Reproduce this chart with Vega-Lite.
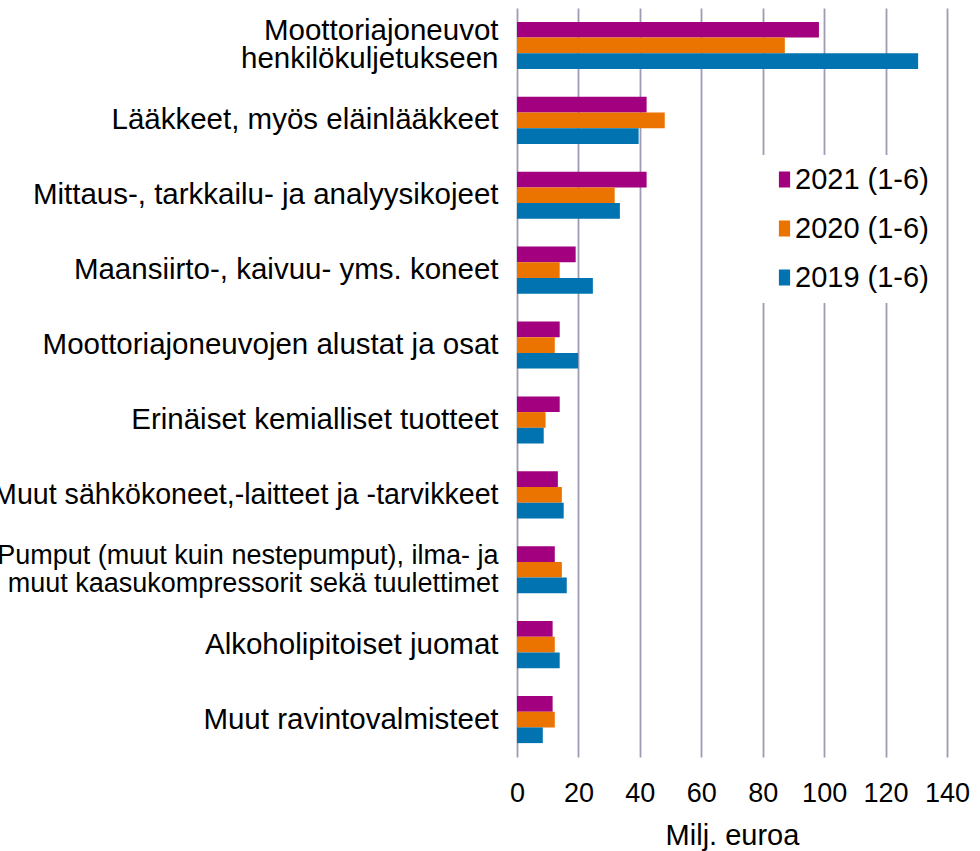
{
  "$schema": "https://vega.github.io/schema/vega-lite/v6.json",
  "autosize": {"type": "none"},
  "padding": {"left": 517, "top": 8, "right": 33, "bottom": 94},
  "width": 430,
  "height": 749,
  "background": "white",
  "config": {
    "font": "Liberation Sans",
    "view": {"stroke": null}
  },
  "data": {
    "values": [
      {"category": "Moottoriajoneuvot henkilökuljetukseen", "year": "2021 (1-6)", "value": 98.3},
      {"category": "Moottoriajoneuvot henkilökuljetukseen", "year": "2020 (1-6)", "value": 87.2},
      {"category": "Moottoriajoneuvot henkilökuljetukseen", "year": "2019 (1-6)", "value": 130.6},
      {"category": "Lääkkeet, myös eläinlääkkeet", "year": "2021 (1-6)", "value": 42.2},
      {"category": "Lääkkeet, myös eläinlääkkeet", "year": "2020 (1-6)", "value": 48.1},
      {"category": "Lääkkeet, myös eläinlääkkeet", "year": "2019 (1-6)", "value": 39.6},
      {"category": "Mittaus-, tarkkailu- ja analyysikojeet", "year": "2021 (1-6)", "value": 42.2},
      {"category": "Mittaus-, tarkkailu- ja analyysikojeet", "year": "2020 (1-6)", "value": 31.8},
      {"category": "Mittaus-, tarkkailu- ja analyysikojeet", "year": "2019 (1-6)", "value": 33.5},
      {"category": "Maansiirto-, kaivuu- yms. koneet", "year": "2021 (1-6)", "value": 19.1},
      {"category": "Maansiirto-, kaivuu- yms. koneet", "year": "2020 (1-6)", "value": 13.9},
      {"category": "Maansiirto-, kaivuu- yms. koneet", "year": "2019 (1-6)", "value": 24.7},
      {"category": "Moottoriajoneuvojen alustat ja osat", "year": "2021 (1-6)", "value": 13.9},
      {"category": "Moottoriajoneuvojen alustat ja osat", "year": "2020 (1-6)", "value": 12.3},
      {"category": "Moottoriajoneuvojen alustat ja osat", "year": "2019 (1-6)", "value": 19.9},
      {"category": "Erinäiset kemialliset tuotteet", "year": "2021 (1-6)", "value": 13.9},
      {"category": "Erinäiset kemialliset tuotteet", "year": "2020 (1-6)", "value": 9.3},
      {"category": "Erinäiset kemialliset tuotteet", "year": "2019 (1-6)", "value": 8.7},
      {"category": "Muut sähkökoneet,-laitteet ja -tarvikkeet", "year": "2021 (1-6)", "value": 13.3},
      {"category": "Muut sähkökoneet,-laitteet ja -tarvikkeet", "year": "2020 (1-6)", "value": 14.6},
      {"category": "Muut sähkökoneet,-laitteet ja -tarvikkeet", "year": "2019 (1-6)", "value": 15.2},
      {"category": "Pumput (muut kuin nestepumput), ilma- ja muut kaasukompressorit sekä tuulettimet", "year": "2021 (1-6)", "value": 12.3},
      {"category": "Pumput (muut kuin nestepumput), ilma- ja muut kaasukompressorit sekä tuulettimet", "year": "2020 (1-6)", "value": 14.6},
      {"category": "Pumput (muut kuin nestepumput), ilma- ja muut kaasukompressorit sekä tuulettimet", "year": "2019 (1-6)", "value": 16.2},
      {"category": "Alkoholipitoiset juomat", "year": "2021 (1-6)", "value": 11.6},
      {"category": "Alkoholipitoiset juomat", "year": "2020 (1-6)", "value": 12.3},
      {"category": "Alkoholipitoiset juomat", "year": "2019 (1-6)", "value": 13.9},
      {"category": "Muut ravintovalmisteet", "year": "2021 (1-6)", "value": 11.6},
      {"category": "Muut ravintovalmisteet", "year": "2020 (1-6)", "value": 12.3},
      {"category": "Muut ravintovalmisteet", "year": "2019 (1-6)", "value": 8.4}
    ]
  },
  "mark": {"type": "bar"},
  "encoding": {
    "y": {
      "field": "category",
      "type": "nominal",
      "sort": null,
      "scale": {"paddingInner": 0.371, "paddingOuter": 0.1855},
      "axis": {
        "title": null,
        "domain": false,
        "ticks": false,
        "grid": false,
        "labelFontSize": {"expr": "indexof(datum.value, 'tuulettimet') >= 0 ? 27 : indexof(datum.value, 'tarvikkeet') >= 0 ? 28.6 : 29.5"},
        "labelColor": "#000000",
        "labelPadding": 19,
        "labelLimit": 0,
        "labelLineHeight": 28,
        "labelOffset": {"expr": "indexof(datum.value, 'henkilökuljetukseen') >= 0 || indexof(datum.value, 'tuulettimet') >= 0 ? -14 : 0"},
        "labelExpr": "datum.label == 'Moottoriajoneuvot henkilökuljetukseen' ? ['Moottoriajoneuvot', 'henkilökuljetukseen'] : datum.label == 'Pumput (muut kuin nestepumput), ilma- ja muut kaasukompressorit sekä tuulettimet' ? ['Pumput (muut kuin nestepumput), ilma- ja', 'muut kaasukompressorit sekä tuulettimet'] : datum.label"
      }
    },
    "yOffset": {
      "field": "year",
      "type": "nominal",
      "sort": ["2021 (1-6)", "2020 (1-6)", "2019 (1-6)"],
      "scale": {"paddingInner": 0, "paddingOuter": 0}
    },
    "x": {
      "field": "value",
      "type": "quantitative",
      "scale": {"domain": [0, 140], "nice": false},
      "axis": {
        "values": [0, 20, 40, 60, 80, 100, 120, 140],
        "grid": true,
        "gridColor": "#9e9bb4",
        "gridWidth": 1.8,
        "gridOpacity": 1,
        "domain": false,
        "ticks": false,
        "labelOverlap": false,
        "labelFlush": false,
        "labelFontSize": 27,
        "labelColor": "#000000",
        "labelPadding": 23,
        "title": "Milj. euroa",
        "titleFontSize": 29,
        "titleFontWeight": "normal",
        "titleColor": "#000000",
        "titlePadding": 15
      }
    },
    "color": {
      "field": "year",
      "type": "nominal",
      "sort": ["2021 (1-6)", "2020 (1-6)", "2019 (1-6)"],
      "scale": {"range": ["#A2007E", "#EB7300", "#0073B0"]},
      "legend": {
        "title": null,
        "orient": "none",
        "legendX": 243,
        "legendY": 147,
        "fillColor": "white",
        "padding": 10,
        "symbolType": "M-0.7,-1H0.7V1H-0.7Z",
        "symbolSize": 256,
        "symbolStrokeWidth": 0,
        "labelFontSize": 29,
        "labelColor": "#000000",
        "labelOffset": -4,
        "rowPadding": 19,
        "labelLimit": 0
      }
    }
  }
}
